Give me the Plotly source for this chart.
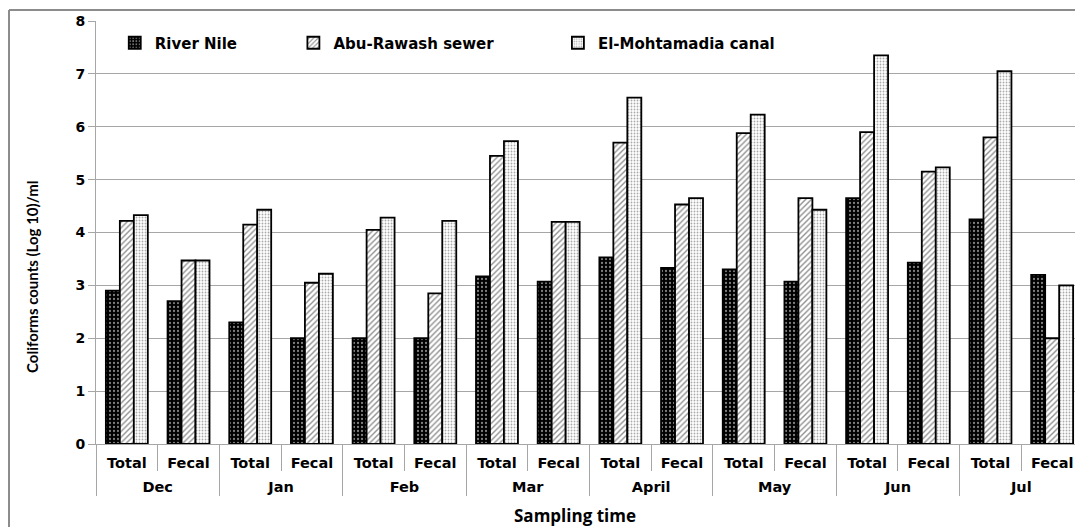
import plotly.graph_objects as go

months = ["Dec", "Jan", "Feb", "Mar", "April", "May", "Jun", "Jul"]
kinds = ["Total", "Fecal"]
series_names = ["River Nile", "Abu-Rawash sewer", "El-Mohtamadia canal"]

river_nile = [2.9, 2.7, 2.3, 2.0, 2.0, 2.0, 3.17, 3.07, 3.53, 3.33, 3.3, 3.07, 4.65, 3.43, 4.25, 3.2]
abu_rawash = [4.22, 3.47, 4.15, 3.05, 4.05, 2.85, 5.45, 4.2, 5.7, 4.53, 5.88, 4.65, 5.9, 5.15, 5.8, 2.0]
el_mohtamadia = [4.33, 3.47, 4.43, 3.22, 4.28, 4.22, 5.73, 4.2, 6.55, 4.65, 6.23, 4.43, 7.35, 5.23, 7.05, 3.0]

x_outer = [m for m in months for _ in kinds]
# a small invisible second line under each inner label opens the gap to the month row
x_inner = [k + "<br><sup>&nbsp;</sup>" for _ in months for k in kinds]

patterns = [
    dict(shape=".", fgcolor="white", bgcolor="black", size=4, solidity=0.25),
    dict(shape="/", fgcolor="#222222", bgcolor="white", size=4, solidity=0.35),
    dict(shape=".", fgcolor="#555555", bgcolor="white", size=3, solidity=0.3),
]
colors = ["black", "#222222", "#555555"]
legend_ids = ["legend", "legend2", "legend3"]
legend_x = [0.019, 0.2000, 0.468]

fig = go.Figure()
for name, vals, pat, col, lg in zip(series_names, [river_nile, abu_rawash, el_mohtamadia],
                                    patterns, colors, legend_ids):
    fig.add_trace(go.Bar(
        name=name,
        x=[x_outer, x_inner],
        y=vals,
        legend=lg,
        marker=dict(color=col, pattern=pat, line=dict(color="black", width=1.8)),
    ))

legend_style = dict(
    orientation="h", y=0.948, xanchor="left", yanchor="middle",
    font=dict(family="DejaVu Sans", size=15, color="black", weight="bold"),
    bgcolor="rgba(0,0,0,0)", itemwidth=30,
)

# The page puts the figure 8px from the window's top-left corner.
fig.update_layout(
    width=1075, height=519,
    margin=dict(l=88, r=0, t=13, b=83, autoexpand=False),
    plot_bgcolor="white", paper_bgcolor="white",
    barmode="group", bargap=0.32, bargroupgap=0,
    font=dict(family="DejaVu Sans", size=12, color="black"),
    legend=dict(x=legend_x[0], **legend_style),
    legend2=dict(x=legend_x[1], **legend_style),
    legend3=dict(x=legend_x[2], **legend_style),
    showlegend=True,
)
fig.update_yaxes(
    range=[0, 8], dtick=1, showgrid=True, gridcolor="#a6a6a6", gridwidth=1,
    showline=True, linecolor="#a6a6a6", linewidth=1,
    ticks="outside", ticklen=7, tickcolor="#a6a6a6",
    tickfont=dict(family="DejaVu Sans", size=14, color="black", weight="bold"),
    zeroline=False, automargin=False,
)
fig.update_xaxes(
    showline=True, linecolor="#a6a6a6", linewidth=1,
    showdividers=True, dividercolor="#a6a6a6", dividerwidth=1,
    tickfont=dict(family="DejaVu Sans", size=14.5, color="black", weight="bold"),
    ticks="outside", tickson="boundaries", tickcolor="#a6a6a6", ticklen=26,
    ticklabelstandoff=6, automargin=False,
)
fig.add_annotation(
    text="Coliforms counts (Log 10)/ml", xref="paper", yref="paper",
    x=-0.0648, y=0.395, textangle=-90, xanchor="center", yanchor="middle",
    showarrow=False,
    font=dict(family="Lato", size=15, color="black", weight="bold"),
)
fig.add_annotation(
    text="Sampling time", xref="paper", yref="paper", x=0.485, y=-0.168,
    xanchor="center", yanchor="middle", showarrow=False,
    font=dict(family="Open Sans", size=17, color="black", weight="bold"),
)
# outer chart frame
fig.add_shape(type="line", xref="paper", yref="paper",
              x0=-87/987, x1=1.02, y0=434/423, y1=434/423,
              line=dict(color="#8c8c8c", width=2))
fig.add_shape(type="line", xref="paper", yref="paper",
              x0=-87/987, x1=-87/987, y0=434/423, y1=-0.25,
              line=dict(color="#8c8c8c", width=2))

fig.write_html("out.html")
